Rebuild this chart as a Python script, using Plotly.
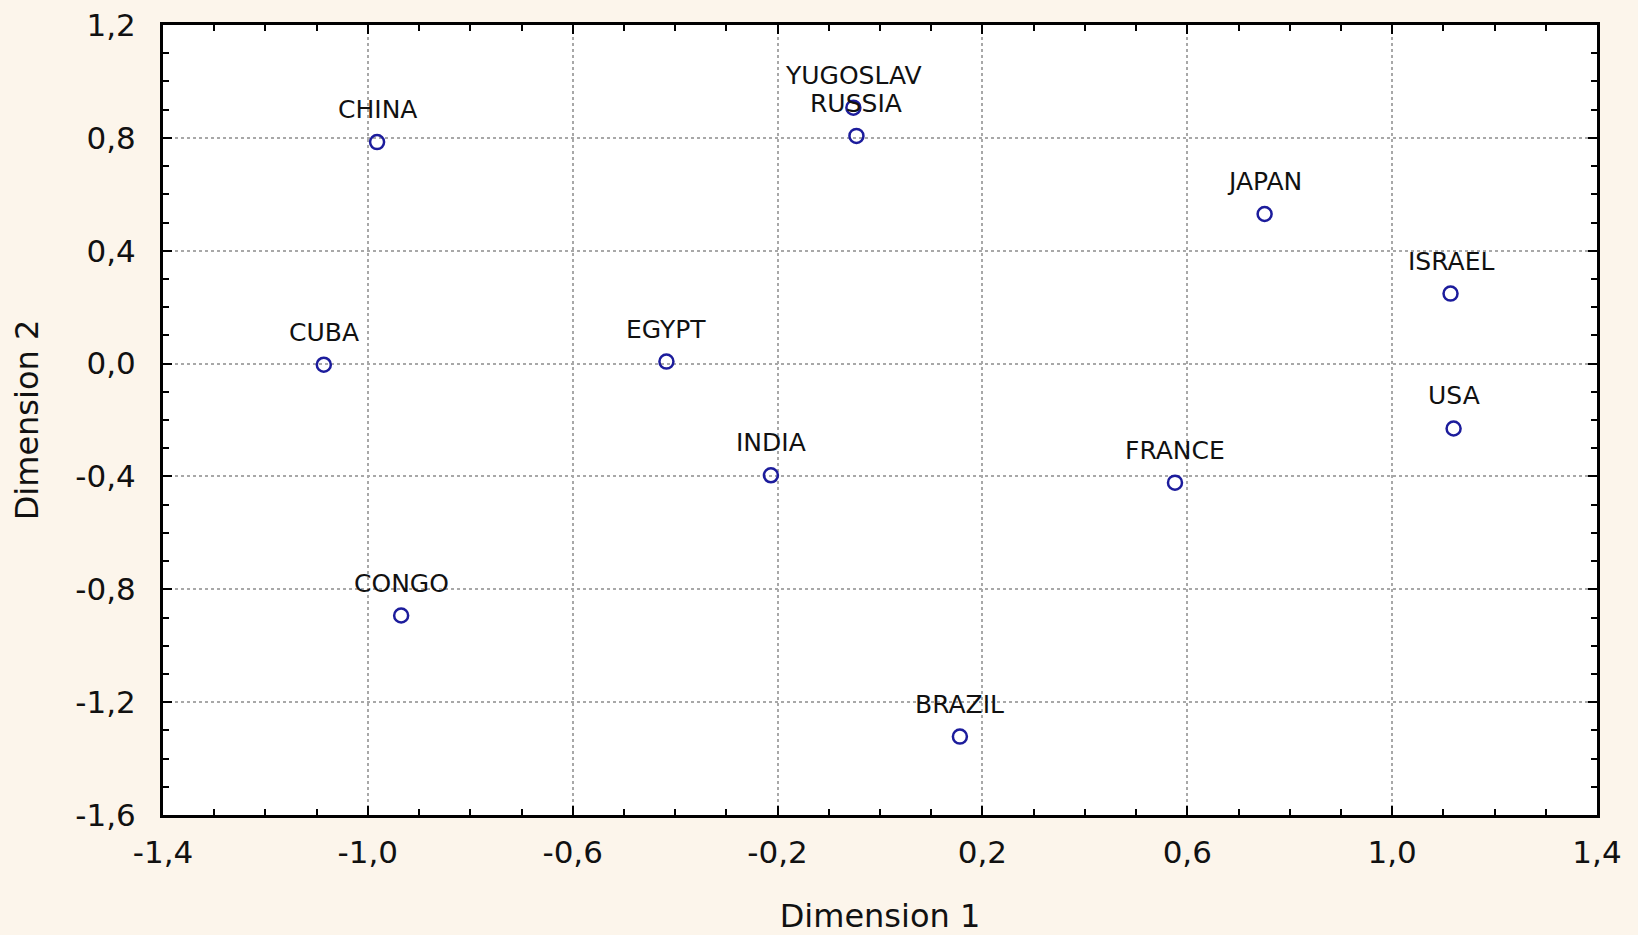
import plotly.graph_objects as go

# %%
countries = ["CHINA", "YUGOSLAV", "RUSSIA", "JAPAN", "ISRAEL", "CUBA", "EGYPT",
             "USA", "INDIA", "FRANCE", "CONGO", "BRAZIL"]
dim1 = [-0.982, -0.052, -0.046, 0.751, 1.114, -1.086, -0.417,
        1.120, -0.213, 0.576, -0.935, 0.156]
dim2 = [0.785, 0.907, 0.807, 0.530, 0.248, -0.004, 0.007,
        -0.230, -0.396, -0.422, -0.893, -1.322]

x_tickvals = [-1.4, -1.0, -0.6, -0.2, 0.2, 0.6, 1.0, 1.4]
x_ticktext = ["-1,4", "-1,0", "-0,6", "-0,2", "0,2", "0,6", "1,0", "1,4"]
y_tickvals = [1.2, 0.8, 0.4, 0.0, -0.4, -0.8, -1.2, -1.6]
y_ticktext = ["1,2", "0,8", "0,4", "0,0", "-0,4", "-0,8", "-1,2", "-1,6"]

# %%
font_name = "DejaVu Sans"

fig = go.Figure()
fig.add_trace(go.Scatter(
    x=dim1, y=dim2, mode="markers",
    marker=dict(symbol="circle-open", size=14, color="#1c1c9c",
                line=dict(width=2.5, color="#1c1c9c")),
    cliponaxis=False, showlegend=False,
))

# labels above the points
for name, xv, yv in zip(countries, dim1, dim2):
    fig.add_annotation(x=xv, y=yv, text=name, showarrow=False,
                       xanchor="center", yanchor="bottom", yshift=16,
                       font=dict(family=font_name, size=25, color="#111111"))

axis_common = dict(
    showline=True, mirror="ticks", linewidth=3, linecolor="black",
    ticks="inside", ticklen=9, tickwidth=2, tickcolor="black",
    showgrid=True, gridcolor="#a8a8a8", gridwidth=1.5, griddash="dot",
    zeroline=False, automargin=False,
    tickfont=dict(family=font_name, size=31, color="#111111"),
    minor=dict(ticks="inside", ticklen=6, tickwidth=2, tickcolor="black",
               dtick=0.1, showgrid=False),
)

fig.update_xaxes(
    range=[-1.4, 1.4], tickvals=x_tickvals, ticktext=x_ticktext,
    ticklabelstandoff=8,
    title=dict(text="Dimension 1", font=dict(family=font_name, size=32, color="#111111"),
               standoff=40),
    **axis_common,
)
fig.update_yaxes(
    range=[-1.6, 1.2], tickvals=y_tickvals, ticktext=y_ticktext,
    ticklabelstandoff=18,
    title=dict(text="Dimension 2", font=dict(family=font_name, size=32, color="#111111"),
               standoff=28),
    **axis_common,
)
fig.update_layout(
    width=1638, height=935,
    margin=dict(l=163, r=41, t=25, b=120),
    paper_bgcolor="#fcf5eb", plot_bgcolor="white",
)

fig.write_html("out.html", config={"displayModeBar": False},
               post_script="document.body.style.margin='0';document.body.style.background='#fcf5eb';")
